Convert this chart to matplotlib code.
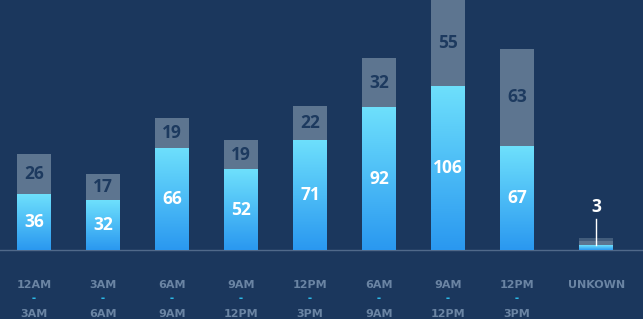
import matplotlib.pyplot as plt
import numpy as np

starts = ['12AM', '3AM', '6AM', '9AM', '12PM', '6AM', '9AM', '12PM', 'UNKOWN']
ends = ['3AM', '6AM', '9AM', '12PM', '3PM', '9AM', '12PM', '3PM', '']
lower = [36, 32, 66, 52, 71, 92, 106, 67, 3]
upper = [26, 17, 19, 19, 22, 32, 55, 63, 3]

bg = '#1b375d'
grey = '#5d7590'
tick_col = '#6a84a3'
fnt = 'Open Sans'
tfnt = 'DejaVu Sans'

fig = plt.figure(figsize=(6.43, 3.19), dpi=100, facecolor=bg)
ax = fig.add_axes([0, 0, 1, 1])
ax.set_facecolor(bg)
ax.set_xlim(0, 643)
ax.set_ylim(-44.5, 161.3)
ax.axis('off')

xs = [34 + 69 * i for i in range(8)] + [596]
w = 34
grad = np.linspace(0, 1, 256).reshape(-1, 1)
cmap = plt.matplotlib.colors.LinearSegmentedColormap.from_list('b', ['#2a98f0', '#6ee0fc'])

ax.axhline(0, color='#50698a', lw=1, zorder=1)

for i, (x, lo, up) in enumerate(zip(xs, lower, upper)):
    ax.imshow(grad, extent=(x - w / 2, x + w / 2, 0, lo), origin='lower', cmap=cmap,
              aspect='auto', zorder=2)
    ax.bar(x, up, bottom=lo, width=w, color=grey, zorder=2)
    if starts[i] == 'UNKOWN':
        ax.bar(x, 2, bottom=lo + up, width=w, color=grey, alpha=0.6, zorder=2)
        ax.plot([x, x], [lo, 20], color='white', lw=1, zorder=3)
        ax.text(x, 28, str(lo), color='white', ha='center', va='center',
                fontsize=12.5, fontweight='bold', family=fnt)
        ax.text(x + 1, -22.5, starts[i], color=tick_col, ha='center', va='center',
                fontsize=8, fontweight='bold', family=tfnt)
        continue
    ax.text(x, lo / 2, str(lo), color='white', ha='center', va='center',
            fontsize=12.5, fontweight='bold', family=fnt, zorder=4)
    ax.text(x, lo + up / 2, str(up), color='#1d3a5f', ha='center', va='center',
            fontsize=12.5, fontweight='bold', family=fnt, zorder=4)
    ax.text(x, -22.5, starts[i], color=tick_col, ha='center', va='center',
            fontsize=8, fontweight='bold', family=tfnt)
    ax.text(x, -31.5, '-', color='#2bb8e6', ha='center', va='center',
            fontsize=9, fontweight='bold', family=fnt)
    ax.text(x, -41.5, ends[i], color=tick_col, ha='center', va='center',
            fontsize=8, fontweight='bold', family=tfnt)

fig.savefig('out.png', dpi=100, facecolor=bg)
